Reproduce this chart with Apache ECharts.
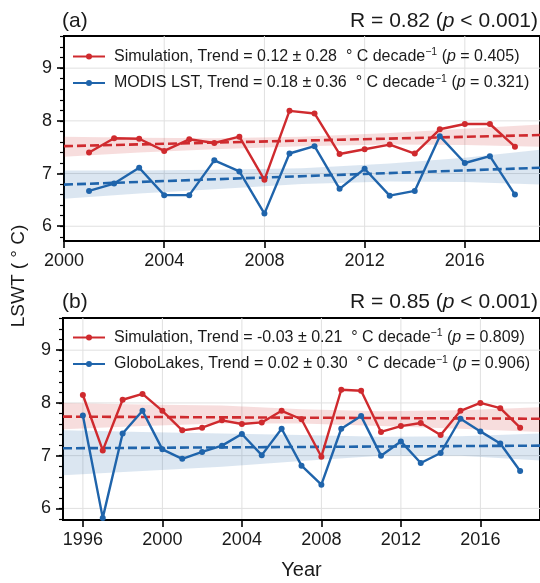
<!DOCTYPE html>
<html>
<head>
<meta charset="utf-8">
<script src="https://cdn.jsdelivr.net/npm/echarts@6/dist/echarts.min.js"></script>
<style>
  html, body { margin: 0; padding: 0; background: #fff; }
  #chart { width: 540px; height: 583px; }
</style>
</head>
<body>
<div id="chart"></div>
<script>
// ---- Panel (a): 2001–2018, simulation vs MODIS LST ----
const yearsA = [2001, 2002, 2003, 2004, 2005, 2006, 2007, 2008, 2009, 2010, 2011, 2012, 2013, 2014, 2015, 2016, 2017, 2018];
const simA   = [7.40, 7.67, 7.66, 7.43, 7.65, 7.58, 7.70, 6.88, 8.19, 8.14, 7.37, 7.46, 7.55, 7.38, 7.84, 7.94, 7.94, 7.51];
const modisA = [6.67, 6.81, 7.11, 6.59, 6.59, 7.25, 7.04, 6.24, 7.38, 7.52, 6.71, 7.09, 6.58, 6.67, 7.71, 7.20, 7.33, 6.60];

const trendYearsA  = [2000, 2019];
const simTrendA    = [7.52, 7.73];
const modisTrendA  = [6.79, 7.11];

const bandYearsA    = [2000, 2003, 2006, 2009.5, 2013, 2016, 2019];
const simBandUpA    = [7.70, 7.68, 7.67, 7.70, 7.77, 7.85, 7.93];
const simBandLoA    = [7.32, 7.40, 7.46, 7.52, 7.55, 7.54, 7.51];
const modisBandUpA  = [7.06, 7.06, 7.07, 7.10, 7.19, 7.30, 7.45];
const modisBandLoA  = [6.52, 6.62, 6.70, 6.80, 6.85, 6.84, 6.79];

// ---- Panel (b): 1996–2018, simulation vs GloboLakes ----
const yearsB = [1996, 1997, 1998, 1999, 2000, 2001, 2002, 2003, 2004, 2005, 2006, 2007, 2008, 2009, 2010, 2011, 2012, 2013, 2014, 2015, 2016, 2017, 2018];
const simB   = [8.15, 7.10, 8.06, 8.17, 7.85, 7.48, 7.53, 7.67, 7.60, 7.63, 7.85, 7.69, 6.98, 8.25, 8.23, 7.45, 7.56, 7.62, 7.39, 7.85, 8.00, 7.90, 7.53];
const globoB = [7.76, 5.82, 7.42, 7.85, 7.12, 6.94, 7.07, 7.19, 7.41, 7.01, 7.51, 6.81, 6.45, 7.51, 7.75, 7.00, 7.27, 6.86, 7.05, 7.70, 7.46, 7.23, 6.71];

const trendYearsB  = [1995, 2019];
const simTrendB    = [7.74, 7.70];
const globoTrendB  = [7.14, 7.19];

const bandYearsB    = [1995, 1999, 2003, 2007, 2011, 2015, 2019];
const simBandUpB    = [8.00, 7.97, 7.95, 7.88, 7.84, 7.86, 7.92];
const simBandLoB    = [7.50, 7.56, 7.61, 7.61, 7.56, 7.51, 7.45];
const globoBandUpB  = [7.48, 7.45, 7.42, 7.39, 7.36, 7.37, 7.42];
const globoBandLoB  = [6.63, 6.71, 6.79, 6.90, 7.00, 7.00, 6.91];

// ---- Tick labels ----
const xTicksA = [2000, 2004, 2008, 2012, 2016];
const xTicksB = [1996, 2000, 2004, 2008, 2012, 2016];
const yTicks  = [6, 7, 8, 9];
const yMinorTicks = [5.8, 6.0, 6.2, 6.4, 6.6, 6.8, 7.0, 7.2, 7.4, 7.6, 7.8, 8.0, 8.2, 8.4, 8.6, 8.8, 9.0, 9.2, 9.4, 9.6];

// ---- Legend and panel texts ----
const legendText = {
  simA:   '{g|}Simulation, Trend = 0.12 ± 0.28  ° C decade{sup|\u22121} ({it|p} = 0.405)',
  modisA: '{g|}MODIS LST, Trend = 0.18 ± 0.36  ° C decade{sup|\u22121} ({it|p} = 0.321)',
  simB:   '{g|}Simulation, Trend = -0.03 ± 0.21  ° C decade{sup|\u22121} ({it|p} = 0.809)',
  globoB: '{g|}GloboLakes, Trend = 0.02 ± 0.30  ° C decade{sup|\u22121} ({it|p} = 0.906)'
};
const corrA = 'R = 0.82 ({it|p} < 0.001)';
const corrB = 'R = 0.85 ({it|p} < 0.001)';
const yLabel = 'LSWT ( ° C)';
const xLabel = 'Year';

const RED = '#cf2a2e';
const BLUE = '#1f64ab';
const FONT = 'Liberation Sans, Arial, sans-serif';
const TXT = '#1a1a1a';

const pairs = (xs, ys) => xs.map((x, i) => [x, ys[i]]);

function xAxisFor(gridIndex, min, max, ticks, withName) {
  return {
    gridIndex, type: 'value', min, max,
    axisLine: { show: true, onZero: false, lineStyle: { color: '#000', width: 2 } },
    axisTick: { show: true, customValues: ticks, length: 7, lineStyle: { color: '#000', width: 1.6 } },
    axisLabel: { customValues: ticks, formatter: v => String(v), fontSize: 18, fontFamily: FONT, color: TXT, margin: 11 },
    splitLine: { show: false },
    name: withName ? xLabel : '',
    nameLocation: 'middle', nameGap: 40,
    nameTextStyle: { fontSize: 20, fontFamily: FONT, color: TXT }
  };
}
function yAxisMain(gridIndex, min, max) {
  return {
    gridIndex, type: 'value', min, max,
    axisLine: { show: true, lineStyle: { color: '#000', width: 2 } },
    axisTick: { show: true, customValues: yTicks, length: 7, lineStyle: { color: '#000', width: 1.6 } },
    axisLabel: { customValues: yTicks, fontSize: 18, fontFamily: FONT, color: TXT, margin: 12 },
    splitLine: { show: false }
  };
}
function yAxisMinor(gridIndex, min, max) {
  return {
    gridIndex, type: 'value', min, max, position: 'left',
    axisLine: { show: false },
    axisTick: { show: true, customValues: yMinorTicks, length: 4, lineStyle: { color: '#000', width: 1.2 } },
    axisLabel: { show: false },
    splitLine: { show: false }
  };
}

// Light grid lines at the major ticks, drawn through the axis scales
function gridSeries(idx, xTicks) {
  const items = xTicks.map(x => [x, null, 'v']).concat(yTicks.map(y => [null, y, 'h']));
  return {
    type: 'custom', xAxisIndex: idx, yAxisIndex: idx * 2, silent: true, z: 0,
    data: items, encode: { x: 0, y: 1 },
    renderItem(params, api) {
      const cs = params.coordSys;
      const kind = api.value(2);
      if (kind === 'v') {
        const px = api.coord([api.value(0), (api.value(1) || 7)])[0];
        return { type: 'line', shape: { x1: px, y1: cs.y, x2: px, y2: cs.y + cs.height },
                 style: { stroke: '#e0e0e0', lineWidth: 1 } };
      }
      const py = api.coord([xTicks[0], api.value(1)])[1];
      return { type: 'line', shape: { x1: cs.x, y1: py, x2: cs.x + cs.width, y2: py },
               style: { stroke: '#e0e0e0', lineWidth: 1 } };
    }
  };
}

// Shaded confidence band between lower and upper edges
function bandSeries(idx, xs, up, lo, color) {
  return {
    type: 'custom', xAxisIndex: idx, yAxisIndex: idx * 2, silent: true, z: 1,
    data: xs.map((x, i) => [x, lo[i], up[i]]), encode: { x: 0, y: [1, 2] },
    renderItem(params, api) {
      if (params.dataIndex !== 0) return null;
      const top = xs.map((x, i) => api.coord([x, up[i]]));
      const bot = xs.map((x, i) => api.coord([x, lo[i]])).reverse();
      return { type: 'polygon', shape: { points: top.concat(bot) },
               style: { fill: color, opacity: 0.16 } };
    }
  };
}
function trendSeries(idx, xs, ys, color, key) {
  return {
    name: key, type: 'line', xAxisIndex: idx, yAxisIndex: idx * 2,
    data: pairs(xs, ys), symbol: 'none', silent: true, z: 3,
    lineStyle: { color, width: 2.6, type: [9, 4] }
  };
}
function dataSeries(idx, xs, ys, color, key) {
  return {
    name: key, type: 'line', xAxisIndex: idx, yAxisIndex: idx * 2,
    data: pairs(xs, ys), symbol: 'circle', symbolSize: 6, z: 4,
    itemStyle: { color }, lineStyle: { color, width: 2.4 }
  };
}

const legendRich = {
  g:   { width: 4 },
  sup: { fontSize: 10.5, fontFamily: FONT, color: TXT, verticalAlign: 'bottom', padding: [0, 0, 8, 0] },
  it:  { fontSize: 16, fontFamily: FONT, color: TXT, fontStyle: 'italic' }
};
function legendFor(names, top, left) {
  return {
    data: names, orient: 'vertical', left, top, itemGap: 9,
    itemWidth: 32, itemHeight: 7.5, selectedMode: false,
    formatter: n => legendText[n],
    textStyle: { fontSize: 16, fontFamily: FONT, color: TXT, rich: legendRich }
  };
}
const titleRich = { it: { fontSize: 21, fontFamily: FONT, color: TXT, fontStyle: 'italic' } };
function titleAt(text, pos) {
  return Object.assign({
    text, padding: 0,
    textStyle: { fontSize: 21, fontWeight: 'normal', fontFamily: FONT, color: TXT, rich: titleRich }
  }, pos);
}

const option = {
  animation: false,
  backgroundColor: '#fff',
  title: [
    titleAt('(a)', { left: 62, top: 11 }),
    titleAt(corrA, { right: 2, top: 11 }),
    titleAt('(b)', { left: 62, top: 292 }),
    titleAt(corrB, { right: 2, top: 292 })
  ],
  legend: [
    legendFor(['simA', 'modisA'], 42, 67),
    legendFor(['simB', 'globoB'], 323, 67)
  ],
  grid: [
    { left: 64, top: 36, width: 477, height: 205, show: true, borderColor: '#000', borderWidth: 2, backgroundColor: 'transparent' },
    { left: 63, top: 318, width: 477, height: 202, show: true, borderColor: '#000', borderWidth: 2, backgroundColor: 'transparent' }
  ],
  xAxis: [
    xAxisFor(0, 2000, 2019, xTicksA, false),
    xAxisFor(1, 1995, 2019, xTicksB, true)
  ],
  yAxis: [
    yAxisMain(0, 5.72, 9.61), yAxisMinor(0, 5.72, 9.61),
    yAxisMain(1, 5.78, 9.61), yAxisMinor(1, 5.78, 9.61)
  ],
  series: [
    gridSeries(0, xTicksA),
    bandSeries(0, bandYearsA, simBandUpA, simBandLoA, RED),
    bandSeries(0, bandYearsA, modisBandUpA, modisBandLoA, BLUE),
    trendSeries(0, trendYearsA, simTrendA, RED, 'simTrendA'),
    trendSeries(0, trendYearsA, modisTrendA, BLUE, 'modisTrendA'),
    dataSeries(0, yearsA, simA, RED, 'simA'),
    dataSeries(0, yearsA, modisA, BLUE, 'modisA'),

    gridSeries(1, xTicksB),
    bandSeries(1, bandYearsB, simBandUpB, simBandLoB, RED),
    bandSeries(1, bandYearsB, globoBandUpB, globoBandLoB, BLUE),
    trendSeries(1, trendYearsB, simTrendB, RED, 'simTrendB'),
    trendSeries(1, trendYearsB, globoTrendB, BLUE, 'globoTrendB'),
    dataSeries(1, yearsB, simB, RED, 'simB'),
    dataSeries(1, yearsB, globoB, BLUE, 'globoB')
  ],
  graphic: [{
    type: 'text', x: 19, y: 276, rotation: Math.PI / 2,
    style: { text: yLabel, fontSize: 19, fontFamily: FONT, fill: TXT, align: 'center', verticalAlign: 'middle' }
  }]
};

const chart = echarts.init(document.getElementById('chart'), null, { renderer: 'canvas' });
chart.setOption(option);
</script>
</body>
</html>
